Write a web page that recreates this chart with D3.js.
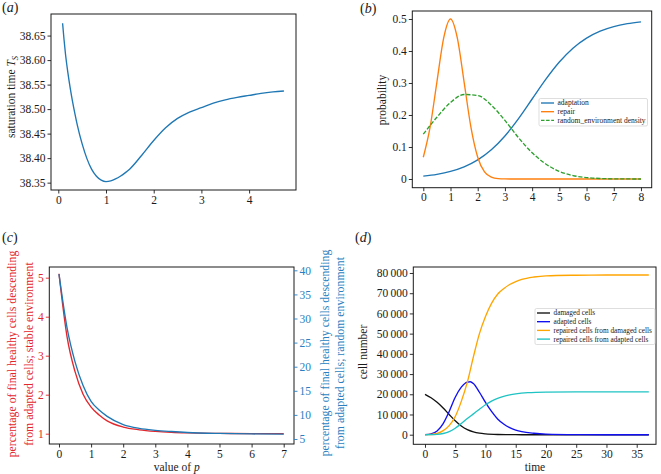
<!DOCTYPE html>
<html><head><meta charset="utf-8">
<script src="https://cdn.jsdelivr.net/npm/d3@7"></script>
<style>
body{margin:0;background:#fff}
svg{display:block}
</style></head><body>
<svg id="c" width="661" height="474" font-family="Liberation Serif, Times New Roman, serif"></svg>
<script>
// ---------- panel (a) ----------
const aX = [0.09,0.12,0.15,0.2,0.25,0.3,0.35,0.4,0.5,0.6,0.7,0.8,0.9,1.0,1.1,1.2,1.3,1.4,1.5,1.75,2.0,2.25,2.5,2.75,3.0,3.25,3.5,3.75,4.0,4.25,4.5,4.73];
const aY = [38.675,38.642,38.613,38.575,38.543,38.515,38.490,38.467,38.429,38.399,38.377,38.363,38.355,38.352,38.3535,38.3575,38.363,38.370,38.378,38.406,38.436,38.462,38.481,38.494,38.503,38.512,38.519,38.524,38.528,38.532,38.535,38.537];
const aXTicks = [0,1,2,3,4];
const aYTicks = [38.35,38.40,38.45,38.50,38.55,38.60,38.65];

// ---------- panel (b) ----------
const adaptX = [0,0.5,1,1.5,2,2.5,3,3.5,4,4.5,5,5.5,6,6.5,7,7.5,8];
const adaptY = [0.0090,0.0146,0.0237,0.0379,0.0596,0.0912,0.1345,0.1888,0.25,0.3112,0.3655,0.4088,0.4404,0.4621,0.4763,0.4853,0.4910];
const repairX = [0,0.25,0.5,0.75,1,1.25,1.5,1.75,2,2.25,2.5,2.75,3,3.5,4,4.5,5,5.5,6,6.5,7,7.5,8];
const repairY = [0.068,0.162,0.303,0.441,0.5,0.441,0.303,0.162,0.068,0.022,0.0056,0.0011,0.0003,0,0,0,0,0,0,0,0,0,0];
const envX = [0,0.5,1,1.5,2,2.5,3,3.5,4,4.5,5,5.5,6,6.5,7,7.5,8];
const envY = [0.140,0.193,0.239,0.264,0.261,0.231,0.183,0.129,0.082,0.047,0.0236,0.0107,0.0044,0.0016,0.0005,0.0002,0.0];
const bXTicks = [0,1,2,3,4,5,6,7,8];
const bYTicks = [0,0.1,0.2,0.3,0.4,0.5];
const bLegend = ["adaptation","repair","random_environment density"];

// ---------- panel (c) ----------
const cX = [0,0.25,0.5,0.75,1,1.25,1.5,2,2.5,3,3.5,4,5,6,7];
const cStable = [5.10,3.49,2.59,2.01,1.68,1.48,1.33,1.17,1.10,1.06,1.035,1.02,1.008,1.003,1.0];
const cRandom = [39.2,28.1,21.0,16.1,12.8,11.0,9.7,8.0,7.2,6.8,6.55,6.35,6.15,6.05,6.0];
const cXTicks = [0,1,2,3,4,5,6,7];
const cYLeftTicks = [1,2,3,4,5];
const cYRightTicks = [5,10,15,20,25,30,35,40];

// ---------- panel (d) ----------
const dmgT = [0,1,2,3,4,5,6,7,8,9,10,12,14,16,20,25,30,37];
const dmg = [20000,18300,16000,13200,10000,6900,4300,2500,1400,750,400,100,20,0,0,0,0,0];
const adpT = [0,1,2,3,4,5,6,7,7.5,8,9,10,11,12,13,14,15,16,18,20,25,30,37];
const adp = [0,400,1800,5500,11500,18500,23500,26000,26200,25300,21000,16000,11500,7800,5300,3500,2300,1500,700,300,50,0,0];
const repDT = [0,1,2,3,4,5,6,7,8,9,10,11,12,13,14,15,16,18,20,25,30,37];
const repD = [0,100,600,2000,4500,9000,16500,26000,38500,50000,58500,65000,69500,72200,74300,75700,76800,78000,78600,78900,79000,79000];
const repAT = [0,1,2,3,4,5,6,7,8,9,10,11,12,13,14,15,17,20,25,30,37];
const repA = [0,10,150,600,1500,3200,5500,8000,10300,12600,14800,16600,18000,19000,19700,20200,20800,21100,21200,21200,21200];
const dXTicks = [0,5,10,15,20,25,30,35];
const dYTicks = [0,10000,20000,30000,40000,50000,60000,70000,80000];
const dLegend = ["damaged cells","adapted cells","repaired cells from damaged cells","repaired cells from adapted cells"];

// ---------- drawing ----------
const svg = d3.select("#c");
const FF = "'Liberation Serif', 'Times New Roman', serif";
const FS = 11.5;
const INK = "#1a1a1a";
const RED = "#e3262b", TBLUE = "#1f77b4";

function mk(box, xd, yd) {
  return {
    x: d3.scaleLinear().domain(xd).range([box.l, box.r]),
    y: d3.scaleLinear().domain(yd).range([box.b, box.t]),
    box
  };
}
function styleAxis(g, color) {
  g.attr("font-family", FF).attr("font-size", FS);
  g.select(".domain").remove();
  g.selectAll("text").attr("font-size", FS).attr("fill", color).style("font-family", FF);
  g.selectAll("line").attr("stroke", color).attr("stroke-width", 0.9);
}
function bottomAxis(p, ticks, fmt, color) {
  const g = svg.append("g").attr("transform", `translate(0,${p.box.b})`)
    .call(d3.axisBottom(p.x).tickValues(ticks).tickFormat(fmt).tickSize(3.5).tickPadding(2).tickSizeOuter(0));
  styleAxis(g, color || INK);
}
function leftAxis(p, ticks, fmt, color, scale) {
  const g = svg.append("g").attr("transform", `translate(${p.box.l},0)`)
    .call(d3.axisLeft(scale || p.y).tickValues(ticks).tickFormat(fmt).tickSize(3.5).tickPadding(2).tickSizeOuter(0));
  styleAxis(g, color || INK);
}
function rightAxis(p, ticks, fmt, color, scale) {
  const g = svg.append("g").attr("transform", `translate(${p.box.r},0)`)
    .call(d3.axisRight(scale).tickValues(ticks).tickFormat(fmt).tickSize(3.5).tickPadding(2).tickSizeOuter(0));
  styleAxis(g, color || INK);
}
function frame(p) {
  const b = p.box;
  svg.append("rect").attr("x", b.l).attr("y", b.t).attr("width", b.r - b.l).attr("height", b.b - b.t)
    .attr("fill", "none").attr("stroke", INK).attr("stroke-width", 1);
}
function curve(p, xs, ys, color, dash, yscale) {
  const ysc = yscale || p.y;
  const data = xs.map((v, i) => [v, ys[i]]);
  svg.append("path").datum(data)
    .attr("d", d3.line().x(d => p.x(d[0])).y(d => ysc(d[1])).curve(d3.curveMonotoneX))
    .attr("fill", "none").attr("stroke", color).attr("stroke-width", 1.35)
    .attr("stroke-dasharray", dash || null);
}
function txt() {
  return svg.append("text").style("font-family", FF);
}
function vlabel(x, y, color, fs) {
  return txt().attr("transform", `translate(${x},${y}) rotate(-90)`)
    .attr("text-anchor", "middle").attr("dy", "0.32em").attr("font-size", fs || FS).attr("fill", color || INK);
}
function panelTag(x, y, letter) {
  const t = txt().attr("x", x).attr("y", y).attr("font-size", 14).attr("fill", INK);
  t.append("tspan").text("(");
  t.append("tspan").attr("font-style", "italic").text(letter);
  t.append("tspan").text(")");
}
function legend(p, x0, y0, w, h, names, colors, dashes, step, fs) {
  svg.append("rect").attr("x", x0).attr("y", y0).attr("width", w).attr("height", h)
    .attr("rx", 1.5).attr("fill", "#fff").attr("fill-opacity", 0.85).attr("stroke", "#d0d0d0").attr("stroke-width", 0.7);
  names.forEach((n, i) => {
    const yy = y0 + 4.5 + i * step;
    svg.append("line").attr("x1", x0 + 2).attr("x2", x0 + 15).attr("y1", yy).attr("y2", yy)
      .attr("stroke", colors[i]).attr("stroke-width", 1.35).attr("stroke-dasharray", dashes[i] || null);
    txt().attr("x", x0 + 18.5).attr("y", yy).attr("dy", "0.33em")
      .attr("font-size", fs).attr("fill", INK).text(n);
  });
}

// ===== (a) =====
const pa = mk({l:51, r:296, t:14, b:190}, [-0.153, 4.983], [38.335, 38.694]);
curve(pa, aX, aY, TBLUE);
frame(pa);
bottomAxis(pa, aXTicks, d3.format("d"));
leftAxis(pa, aYTicks, d3.format(".2f"));
{
  const t = vlabel(11.5, 97);
  t.append("tspan").text("saturation time ");
  t.append("tspan").attr("font-style", "italic").text("T");
  t.append("tspan").attr("font-style", "italic").attr("font-size", 8.5).attr("dy", "3").text("S");
}
panelTag(2, 11.5, "a");

// ===== (b) =====
const pb = mk({l:412.3, r:651.7, t:11, b:187.7}, [-0.404, 8.394], [-0.0272, 0.525]);
curve(pb, adaptX, adaptY, "#1f77b4");
curve(pb, repairX, repairY, "#ff7f0e");
curve(pb, envX, envY, "#2ca02c", "4.2,1.8");
frame(pb);
bottomAxis(pb, bXTicks, d3.format("d"));
leftAxis(pb, bYTicks, d => d === 0 ? "0" : d3.format(".1f")(d));
vlabel(382.5, 100).text("probability");
legend(pb, 539, 98.5, 108.5, 27.5, bLegend, ["#1f77b4","#ff7f0e","#2ca02c"], [null,null,"3.5,1.6"], 8.7, 7.5);
panelTag(360, 12.5, "b");

// ===== (c) =====
const pc = mk({l:49.3, r:294, t:267, b:444}, [-0.302, 7.321], [0.736, 5.274]);
const ycR = d3.scaleLinear().domain([3.96, 40.69]).range([444, 267]);
curve(pc, cX, cStable, RED);
curve(pc, cX, cRandom, TBLUE, null, ycR);
frame(pc);
bottomAxis(pc, cXTicks, d3.format("d"));
leftAxis(pc, cYLeftTicks, d3.format("d"), RED);
rightAxis(pc, cYRightTicks, d3.format("d"), "#2a7fc0", ycR);
vlabel(12.7, 354, RED, 11.8).text("percentage of final healthy cells descending");
vlabel(29.3, 354, RED, 11.8).text("from adapted cells; stable environment");
vlabel(325, 353, "#2a7fc0", 11.8).text("percentage of final healthy cells descending");
vlabel(340.5, 353, "#2a7fc0", 11.8).text("from adapted cells; random environment");
{
  const t = txt().attr("x", 176.7).attr("y", 467).attr("dy", "0.32em")
    .attr("text-anchor", "middle").attr("font-size", FS).attr("fill", INK);
  t.append("tspan").text("value of ");
  t.append("tspan").attr("font-style", "italic").text("p");
}
panelTag(2, 242, "c");

// ===== (d) =====
const pd = mk({l:413.3, r:656, t:267, b:444.3}, [-1.934, 38.19], [-4749, 82968]);
curve(pd, dmgT, dmg, "#111111");
curve(pd, adpT, adp, "#1010f0");
curve(pd, repDT, repD, "#ffa500");
curve(pd, repAT, repA, "#1fc3c3");
frame(pd);
bottomAxis(pd, dXTicks, d3.format("d"));
const thin = v => d3.format(",")(v).replace(/,/g, "\u2009");
leftAxis(pd, dYTicks, thin);
vlabel(363.3, 352).text("cell number");
txt().attr("x", 535).attr("y", 467).attr("dy", "0.32em").attr("text-anchor", "middle")
  .attr("font-size", FS).attr("fill", INK).text("time");
legend(pd, 535, 308.5, 120, 36, dLegend, ["#111111","#1010f0","#ffa500","#1fc3c3"], [], 8.7, 7.3);
panelTag(355, 242, "d");
</script>
</body></html>
